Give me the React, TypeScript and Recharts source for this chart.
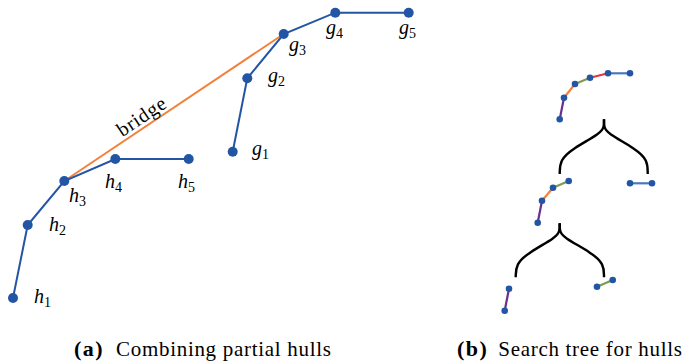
import React from "react";
import { ComposedChart, Line, Scatter, XAxis, YAxis } from "recharts";

// (a) partial hulls h and g (x right, y down)
const hX = [13, 27.7, 64.3, 115.3, 188.7];
const hY = [298, 225, 181, 159, 159];
const gX = [232.7, 247.3, 283.7, 335.3, 408.7];
const gY = [151.7, 78.3, 34, 12.7, 12.7];
const hLabelX = [34, 49, 69, 105, 178];
const hLabelY = [303, 231, 202, 188, 188];
const gLabelX = [252, 268, 289, 326, 399];
const gLabelY = [155, 82, 51, 34, 34];
const bridgeLabel = { x: 141.5, y: 116, text: "bridge" };

// (b) search tree: hull chains and the colour of each edge
const topX = [559.7, 564, 575, 590, 608, 630];
const topY = [119.3, 97.7, 84, 77.7, 73.3, 73.3];
const topEdges = ["purple", "orange", "green", "red", "blue"];
const midLX = [537.7, 542, 553, 568.7];
const midLY = [222.7, 200.7, 187.7, 181];
const midLEdges = ["purple", "orange", "green"];
const midRX = [630, 652];
const midRY = [183.3, 183.3];
const midREdges = ["blue"];
const botLX = [504.7, 509];
const botLY = [310.7, 288.7];
const botLEdges = ["purple"];
const botRX = [597, 612.7];
const botRY = [286.7, 280];
const botREdges = ["green"];

// braces (control polygons of the curves)
const brace1LX = [604, 604, 601, 572, 560, 559.7];
const brace1LY = [119.3, 127, 133, 149, 160, 174];
const brace1RX = [604, 604, 607, 636, 647.7, 647.7];
const brace1RY = [119.3, 127, 133, 149, 160, 174];
const brace2LX = [559.7, 559.7, 556.7, 528, 516, 515.7];
const brace2LY = [223.3, 231, 237, 253, 264, 277.3];
const brace2RX = [559.7, 559.7, 562.7, 592, 604, 604];
const brace2RY = [223.3, 231, 237, 253, 264, 277.3];

const EDGE: Record<string, string> = {
  purple: "#6b2d90", orange: "#f2813b", green: "#7f9a55",
  red: "#e8323c", blue: "#4a78c0",
};
const BLUE = "#2355a5";
const SERIF = { fontFamily: "Liberation Serif, serif" };

const pts = (xs: number[], ys: number[]) => xs.map((x, i) => ({ x, y: ys[i] }));
const edges = (xs: number[], ys: number[], cols: string[]) =>
  cols.map((c, i) => ({ color: EDGE[c], data: [{ x: xs[i], y: ys[i] }, { x: xs[i + 1], y: ys[i + 1] }] }));

const hLabels = hX.map((_, i) => ({ x: hLabelX[i], y: hLabelY[i], name: "h", sub: String(i + 1) }));
const gLabels = gX.map((_, i) => ({ x: gLabelX[i], y: gLabelY[i], name: "g", sub: String(i + 1) }));

const treeEdges = [
  ...edges(topX, topY, topEdges),
  ...edges(midLX, midLY, midLEdges),
  ...edges(midRX, midRY, midREdges),
  ...edges(botLX, botLY, botLEdges),
  ...edges(botRX, botRY, botREdges),
];
const treeDots = [
  ...pts(topX, topY), ...pts(midLX, midLY), ...pts(midRX, midRY),
  ...pts(botLX, botLY), ...pts(botRX, botRY),
];
const braces = [
  pts(brace1LX, brace1LY), pts(brace1RX, brace1RY),
  pts(brace2LX, brace2LY), pts(brace2RX, brace2RY),
];

const bridgeAngle = Math.atan2(gY[2] - hY[2], gX[2] - hX[2]) * 180 / Math.PI;
const noShape = () => <g />;

export default function App() {
  return (
    <div style={{ position: "absolute", left: 0, top: 0, width: 688, height: 363, background: "#fff" }}>
      <ComposedChart width={688} height={330} margin={{ top: 0, right: 0, bottom: 0, left: 0 }}>
        <XAxis type="number" dataKey="x" domain={[0, 688]} hide allowDataOverflow />
        <YAxis type="number" dataKey="y" domain={[0, 330]} reversed hide allowDataOverflow />

        {/* (a) */}
        <Scatter data={[pts(hX, hY)[2], pts(gX, gY)[2]]} line={{ stroke: "#f2813b", strokeWidth: 2 }}
          shape={noShape} isAnimationActive={false} />
        <Scatter data={pts(hX, hY)} line={{ stroke: BLUE, strokeWidth: 2 }}
          shape={noShape} isAnimationActive={false} />
        <Scatter data={pts(gX, gY)} line={{ stroke: BLUE, strokeWidth: 2 }}
          shape={noShape} isAnimationActive={false} />
        <Scatter data={[...pts(hX, hY), ...pts(gX, gY)]} isAnimationActive={false}
          shape={(p: any) => <circle cx={p.cx} cy={p.cy} r={5} fill={BLUE} />} />
        <Scatter data={[...hLabels, ...gLabels]} isAnimationActive={false}
          shape={(p: any) => (
            <text x={p.cx} y={p.cy} style={SERIF} fill="#000">
              <tspan fontStyle="italic" fontSize={20}>{p.payload.name}</tspan>
              <tspan fontSize={14} dy={4}>{p.payload.sub}</tspan>
            </text>
          )} />
        <Scatter data={[bridgeLabel]} isAnimationActive={false}
          shape={(p: any) => (
            <text x={p.cx} y={p.cy} style={SERIF} fontSize={20} letterSpacing={0.8}
              textAnchor="middle" dominantBaseline="central"
              transform={`rotate(${bridgeAngle} ${p.cx} ${p.cy})`}>
              {p.payload.text}
            </text>
          )} />

        {/* (b) */}
        {braces.map((b, i) => (
          <Line key={`br${i}`} data={b} dataKey="y" stroke="#000" strokeWidth={2.4}
            dot={false} activeDot={false} type="basis" isAnimationActive={false} />
        ))}
        {treeEdges.map((e, i) => (
          <Scatter key={`e${i}`} data={e.data} line={{ stroke: e.color, strokeWidth: 2.2 }}
            shape={noShape} isAnimationActive={false} />
        ))}
        <Scatter data={treeDots} isAnimationActive={false}
          shape={(p: any) => <circle cx={p.cx} cy={p.cy} r={3.3} fill={BLUE} />} />
      </ComposedChart>

      <svg width={688} height={33} style={{ position: "absolute", left: 0, top: 330 }}>
        <text x={74} y={26} style={SERIF} fontSize={21} letterSpacing={0.7}>
          <tspan fontWeight="bold" fontSize={22} letterSpacing={1.5}>(a)</tspan>
          <tspan x={116}>Combining partial hulls</tspan>
        </text>
        <text x={457} y={26} style={SERIF} fontSize={21} letterSpacing={0.7}>
          <tspan fontWeight="bold" fontSize={22} letterSpacing={1.5}>(b)</tspan>
          <tspan x={498.3}>Search tree for hulls</tspan>
        </text>
      </svg>
    </div>
  );
}
